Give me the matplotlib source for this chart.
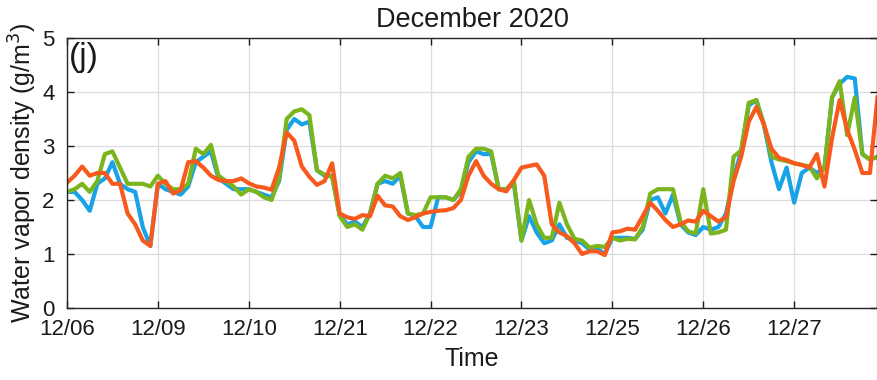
import numpy as np
import matplotlib
matplotlib.use("Agg")
import matplotlib.pyplot as plt

# one sample every 2 hours, 12 per day, 9 days shown back to back
day_labels = ['12/06', '12/09', '12/10', '12/21', '12/22', '12/23', '12/25', '12/26', '12/27']
step_h = 2

blue = [
    2.15, 2.15, 2.0, 1.8, 2.3, 2.4, 2.7, 2.3, 2.2, 2.15, 1.5, 1.15,
    2.3, 2.2, 2.15, 2.1, 2.25, 2.7, 2.8, 2.9, 2.4, 2.3, 2.2, 2.2,
    2.2, 2.15, 2.1, 2.05, 2.35, 3.3, 3.5, 3.4, 3.45, 2.55, 2.45, 2.45,
    1.72, 1.55, 1.6, 1.5, 1.75, 2.3, 2.35, 2.3, 2.45, 1.75, 1.7, 1.5,
    1.5, 2.05, 2.05, 2.0, 2.15, 2.7, 2.9, 2.85, 2.85, 2.2, 2.2, 2.3,
    1.25, 1.7, 1.4, 1.2, 1.25, 1.55, 1.3, 1.25, 1.2, 1.08, 1.1, 1.0,
    1.3, 1.3, 1.3, 1.28, 1.45, 2.0, 2.05, 1.75, 2.1, 1.55, 1.4, 1.35,
    1.5, 1.45, 1.5, 1.75, 2.4, 2.9, 3.75, 3.85, 3.4, 2.7, 2.2, 2.6,
    1.95, 2.5, 2.6, 2.5, 2.6, 3.9, 4.15, 4.28, 4.25, 2.85, 2.75, 2.8,
]
green = [
    2.15, 2.2, 2.3, 2.15, 2.35, 2.85, 2.9, 2.6, 2.3, 2.3, 2.3, 2.25,
    2.45, 2.3, 2.2, 2.2, 2.3, 2.95, 2.85, 3.02, 2.45, 2.35, 2.25, 2.1,
    2.2, 2.15, 2.05, 2.0, 2.4, 3.5, 3.64, 3.68, 3.57, 2.55, 2.47, 2.43,
    1.7, 1.5, 1.55, 1.45, 1.75, 2.3, 2.45, 2.4, 2.5, 1.75, 1.72, 1.75,
    2.05, 2.05, 2.05, 2.0, 2.2, 2.8, 2.95, 2.95, 2.9, 2.2, 2.2, 2.35,
    1.25, 2.0, 1.55, 1.3, 1.3, 1.95, 1.55, 1.28, 1.25, 1.12, 1.15, 1.13,
    1.3, 1.25, 1.28, 1.27, 1.5, 2.12, 2.2, 2.2, 2.2, 1.6, 1.42, 1.38,
    2.2, 1.38, 1.4, 1.45, 2.8, 2.92, 3.8, 3.85, 3.4, 2.8, 2.75, 2.72,
    2.68, 2.65, 2.62, 2.4, 2.6, 3.9, 4.2, 3.2, 3.9, 2.85, 2.75, 2.8,
]
orange = [
    2.32, 2.45, 2.62, 2.45, 2.5, 2.5, 2.3, 2.3, 1.75, 1.55, 1.25, 1.15,
    2.3, 2.35, 2.12, 2.18, 2.7, 2.72, 2.6, 2.45, 2.37, 2.35, 2.35, 2.4,
    2.31, 2.25, 2.23, 2.19, 2.6, 3.25, 3.1, 2.62, 2.43, 2.28, 2.35, 2.68,
    1.75, 1.68, 1.65, 1.72, 1.7, 2.08, 1.9, 1.88, 1.7, 1.63, 1.68, 1.75,
    1.78, 1.8, 1.81, 1.85, 2.0, 2.45, 2.72, 2.45, 2.3, 2.2, 2.16, 2.37,
    2.6, 2.63, 2.66, 2.45, 1.55, 1.4, 1.33, 1.2, 1.0, 1.05, 1.05, 0.98,
    1.4, 1.42, 1.47, 1.45, 1.7, 1.95, 1.8, 1.63, 1.5, 1.55, 1.62, 1.6,
    1.8, 1.7, 1.6, 1.68, 2.35, 2.8, 3.45, 3.72, 3.4, 2.95, 2.78, 2.74,
    2.68, 2.65, 2.6, 2.85, 2.25, 3.15, 3.85, 3.3, 2.93, 2.5, 2.5, 3.9,
]

hours = np.arange(len(blue)) * step_h

plt.rcParams['font.family'] = ['Liberation Sans', 'DejaVu Sans']

fig = plt.figure(figsize=(8.78, 3.8), dpi=100)
ax = fig.add_axes([67/878, 1 - 308/380, (877.5 - 67)/878, 270/380])

lw = 3.0
ax.plot(hours, blue, color='#18a2e8', lw=lw)
ax.plot(hours, green, color='#7ab51d', lw=lw)
ax.plot(hours, orange, color='#f75a1c', lw=lw)

ax.set_xlim(0, hours[-1])
ax.set_ylim(0, 5)
ax.set_xticks(np.arange(len(day_labels)) * 24)
ax.set_xticklabels(day_labels)
ax.set_yticks(range(6))

ax.grid(True, color='#dcdcdc', lw=0.9)
ax.set_axisbelow(True)
ax.tick_params(direction='in', length=5, width=1, top=True, right=True,
               labelsize=16, colors='#1a1a1a')
ax.tick_params(axis='x', pad=8)
ax.tick_params(axis='y', pad=9)
for sp in ax.spines.values():
    sp.set_color('#262626')
    sp.set_linewidth(1)

ax.set_xlabel('Time', fontsize=18, labelpad=5, color='#1a1a1a')
ax.set_ylabel('Water vapor density (g/m$^3$)', fontsize=18, labelpad=2, color='#1a1a1a')
ax.set_title('December 2020', fontsize=19.5, pad=8, color='#1a1a1a')
ax.text(0.002, 0.985, '(j)', transform=ax.transAxes, fontsize=24, va='top', ha='left',
        color='#1a1a1a')

fig.savefig('out.png', dpi=100)
